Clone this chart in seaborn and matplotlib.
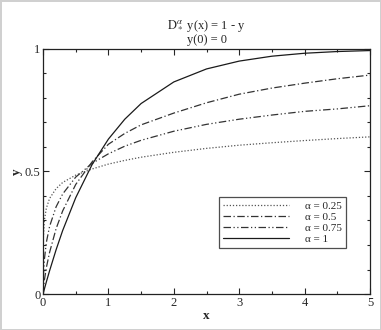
import numpy as np
import pandas as pd
import matplotlib
matplotlib.use("Agg")
import matplotlib.pyplot as plt
from matplotlib.ticker import MultipleLocator
import seaborn as sns

# values
x = [0, 0.005, 0.02, 0.05, 0.1, 0.2, 0.3, 0.5, 0.75, 1, 1.25, 1.5,
     2, 2.5, 3, 3.5, 4, 4.5, 5]
y_025 = [0, 0.23, 0.30, 0.35, 0.39, 0.43, 0.455, 0.485, 0.51, 0.53, 0.545,
         0.558, 0.578, 0.594, 0.607, 0.617, 0.626, 0.634, 0.641]
y_05 = [0, 0.02, 0.056, 0.107, 0.17, 0.267, 0.339, 0.447, 0.539, 0.611, 0.655,
        0.69, 0.738, 0.78, 0.815, 0.84, 0.86, 0.878, 0.893]
y_075 = [0, 0.075, 0.14, 0.21, 0.276, 0.356, 0.408, 0.477, 0.533, 0.572, 0.603,
         0.627, 0.664, 0.692, 0.713, 0.73, 0.745, 0.755, 0.768]
y_1 = [0, 0.005, 0.02, 0.049, 0.095, 0.181, 0.259, 0.393, 0.528, 0.632, 0.713,
       0.777, 0.865, 0.918, 0.95, 0.97, 0.982, 0.989, 0.993]

labels = ["α = 0.25", "α = 0.5", "α = 0.75", "α = 1"]
series = [y_025, y_05, y_075, y_1]
dashes = [(1, 1.5), (6, 2, 1, 2), (6, 2, 1, 2, 1, 2), ""]
colors = ["#555555", "#333333", "#333333", "#1a1a1a"]

sns.set_style("ticks")
plt.rcParams["font.family"] = ["Liberation Serif", "DejaVu Serif"]
plt.rcParams["mathtext.fontset"] = "stix"

fig = plt.figure(figsize=(3.81, 3.30), dpi=100)
fig.patch.set_edgecolor("#d0d0d0")
fig.patch.set_linewidth(2)
ax = fig.add_axes([0.113, 0.109, 0.858, 0.743])

for ys, lab, d, c in zip(series, labels, dashes, colors):
    sns.lineplot(x=x, y=ys, ax=ax, color=c, lw=0.9, label=lab)
    if d:
        ax.lines[-1].set_dashes(d)

ax.set_xlim(0, 5)
ax.set_ylim(0, 1)
ax.set_xticks([0, 1, 2, 3, 4, 5])
ax.xaxis.set_minor_locator(MultipleLocator(0.5))
ax.set_yticks([0, 0.5, 1], labels=["0", "0.5", "1"])
ax.yaxis.set_minor_locator(MultipleLocator(0.1))
ax.tick_params(which="both", direction="in", top=True, right=True,
               labelsize=9, width=0.8, pad=2)
ax.tick_params(which="major", length=4)
ax.tick_params(which="minor", length=2.5)
for s in ax.spines.values():
    s.set_linewidth(0.9)
    s.set_color("#222222")

ax.set_xlabel("x", fontsize=9.5, fontweight="bold", labelpad=1)
ax.set_ylabel("y", fontsize=9.5, fontweight="bold", labelpad=1, rotation=90)
ax.set_title("$\\mathrm{D}_*^{\\alpha}$ y(x) = 1 - y\ny(0) = 0",
             fontsize=9, pad=4, linespacing=1.05)

leg = ax.legend(loc="lower right", bbox_to_anchor=(0.943, 0.165), fontsize=8,
                frameon=True, fancybox=False, edgecolor="#222222",
                handlelength=6.0, borderpad=0.35, labelspacing=0.12,
                handletextpad=1.4)
leg.get_frame().set_linewidth(0.9)

fig.savefig("out.png", dpi=100)
